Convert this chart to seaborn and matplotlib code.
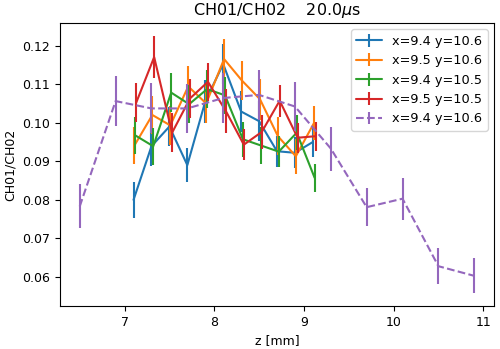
import numpy as np
import pandas as pd
import matplotlib
matplotlib.use("Agg")
import matplotlib.pyplot as plt
from matplotlib.container import ErrorbarContainer
import seaborn as sns

# scan positions along z [mm]
z_short = [7.1, 7.3, 7.5, 7.7, 7.9, 8.1, 8.3, 8.5, 8.7, 8.9, 9.1]
z_long = [6.5, 6.9, 7.3, 7.7, 8.1, 8.5, 8.9, 9.3, 9.7, 10.1, 10.5, 10.9]

# ratio values and their errors
blue_y = [0.0800, 0.0939, 0.0990, 0.0890, 0.1055, 0.1152, 0.1029, 0.1004, 0.0926, 0.0922, 0.0950]
blue_err = [0.0046, 0.0052, 0.0050, 0.0044, 0.0056, 0.0052, 0.0052, 0.0052, 0.0040, 0.0040, 0.0038]
orange_y = [0.0941, 0.1020, 0.0993, 0.1094, 0.1050, 0.1165, 0.1109, 0.1061, 0.0965, 0.0913, 0.0998]
orange_err = [0.0049, 0.0050, 0.0050, 0.0052, 0.0050, 0.0051, 0.0050, 0.0053, 0.0050, 0.0046, 0.0044]
green_y = [0.0967, 0.0939, 0.1078, 0.1048, 0.1087, 0.1071, 0.0957, 0.0941, 0.0925, 0.0974, 0.0857]
green_err = [0.0049, 0.0048, 0.0051, 0.0050, 0.0050, 0.0048, 0.0046, 0.0048, 0.0040, 0.0046, 0.0036]
red_y = [0.1052, 0.1170, 0.0974, 0.1063, 0.1106, 0.1030, 0.0943, 0.0976, 0.1057, 0.0961, 0.0965]
red_err = [0.0051, 0.0055, 0.0051, 0.0050, 0.0050, 0.0058, 0.0040, 0.0045, 0.0041, 0.0039, 0.0038]
purple_y = [0.0783, 0.1056, 0.1037, 0.1037, 0.1064, 0.1072, 0.1042, 0.0933, 0.0781, 0.0803, 0.0628, 0.0603]
purple_err = [0.0057, 0.0064, 0.0065, 0.0063, 0.0064, 0.0065, 0.0063, 0.0057, 0.0050, 0.0054, 0.0046, 0.0045]

labels = ["x=9.4 y=10.6", "x=9.5 y=10.6", "x=9.4 y=10.5", "x=9.5 y=10.5", "x=9.4 y=10.6"]
offsets = [0.0, 0.01, 0.02, 0.03]

sns.set_style("ticks")
plt.rcParams["font.family"] = ["DejaVu Sans"]
plt.rcParams["text.color"] = "black"
plt.rcParams["axes.labelcolor"] = "black"
plt.rcParams["xtick.color"] = "black"
plt.rcParams["ytick.color"] = "black"
colors = sns.color_palette("tab10")

fig, ax = plt.subplots(figsize=(5.0, 3.49), dpi=100)
fig.subplots_adjust(left=0.12, right=0.988, top=0.934, bottom=0.123)

series = [
    (np.array(z_short) + offsets[0], blue_y, blue_err, "-"),
    (np.array(z_short) + offsets[1], orange_y, orange_err, "-"),
    (np.array(z_short) + offsets[2], green_y, green_err, "-"),
    (np.array(z_short) + offsets[3], red_y, red_err, "-"),
    (np.array(z_long), purple_y, purple_err, "--"),
]

handles = []
for i, (z, y, err, ls) in enumerate(series):
    df = pd.DataFrame({"z": z, "ratio": y})
    sns.lineplot(data=df, x="z", y="ratio", color=colors[i], linestyle=ls,
                 linewidth=1.5, sort=False, legend=False, ax=ax)
    line = ax.lines[-1]
    eb = ax.errorbar(z, y, yerr=err, fmt="none", ecolor=colors[i], elinewidth=1.5)
    handles.append(ErrorbarContainer((line, (), eb.lines[2]), has_yerr=True))

ax.legend(handles, labels, loc="upper right", fontsize=9.3)
ax.set_title("CH01/CH02    20.0$\\mu$s", fontsize=11.5)
ax.set_xlabel("z [mm]", fontsize=9)
ax.set_ylabel("CH01/CH02", fontsize=9)
ax.set_xticks([7, 8, 9, 10, 11])
ax.set_yticks([0.06, 0.07, 0.08, 0.09, 0.10, 0.11, 0.12])
ax.tick_params(labelsize=9, length=3.5)
for s in ax.spines.values():
    s.set_color("black")
    s.set_linewidth(0.8)

fig.savefig("out.png", dpi=100)
